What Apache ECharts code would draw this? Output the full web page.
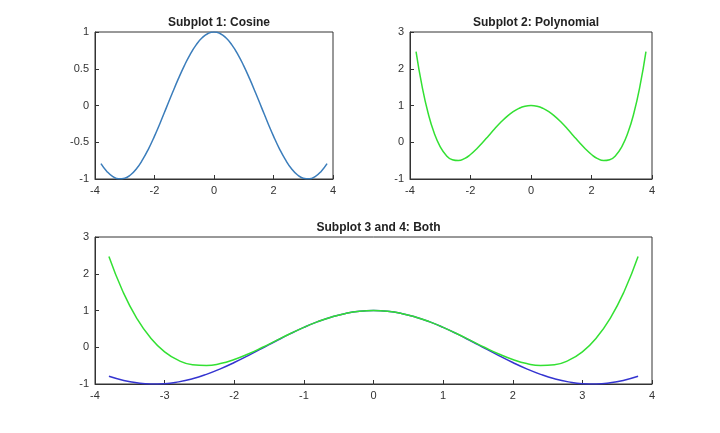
<!DOCTYPE html>
<html><head><meta charset="utf-8">
<script src="https://cdn.jsdelivr.net/npm/echarts@6/dist/echarts.min.js"></script>
<style>html,body{margin:0;background:#fff}#c{width:720px;height:433px}</style>
</head><body><div id="c"></div>
<script>
const xs = [-3.8,-3.6,-3.4,-3.2,-3.0,-2.8,-2.6,-2.4,-2.2,-2.0,-1.8,-1.6,-1.4,-1.2,-1.0,-0.8,-0.6,-0.4,-0.2,0,
  0.2,0.4,0.6,0.8,1.0,1.2,1.4,1.6,1.8,2.0,2.2,2.4,2.6,2.8,3.0,3.2,3.4,3.6,3.8]
const cosHalf = [-0.791,-0.897,-0.967,-0.998,-0.990,-0.942,-0.857,-0.737,-0.589,-0.416,-0.227,-0.029,0.170,0.362,0.540,0.697,0.825,0.921,0.980,1]
const polyHalf = [2.468,1.518,0.788,0.249,-0.125,-0.359,-0.476,-0.498,-0.444,-0.333,-0.183,-0.007,0.180,0.366,0.542,0.697,0.825,0.921,0.980,1]
const cosVals = cosHalf.concat(cosHalf.slice(0, -1).reverse())
const polyVals = polyHalf.concat(polyHalf.slice(0, -1).reverse())
const titles = ['Subplot 1: Cosine', 'Subplot 2: Polynomial', 'Subplot 3 and 4: Both']

const pair = v => xs.map((x, i) => [x, v[i]])
const font = {color: '#333', fontSize: 11, fontFamily: 'Liberation Sans'}
const grids = [
  {left: 95, top: 32, width: 238, height: 147},
  {left: 410, top: 32, width: 242, height: 147},
  {left: 95, top: 237, width: 557, height: 147}
].map(g => Object.assign(g, {show: true, borderColor: '#333', borderWidth: 1}))

const axisBase = {
  axisLine: {show: true, onZero: false, lineStyle: {color: '#333'}},
  axisTick: {inside: true, length: 4, lineStyle: {color: '#333'}},
  splitLine: {show: false},
  axisLabel: Object.assign({margin: 6, showMinLabel: true, showMaxLabel: true}, font)
}
const xAxis = [2, 2, 1].map((iv, i) => Object.assign({type: 'value', gridIndex: i, min: -4, max: 4, interval: iv}, axisBase))
const yAxis = [
  {min: -1, max: 1, interval: 0.5},
  {min: -1, max: 3, interval: 1},
  {min: -1, max: 3, interval: 1}
].map((y, i) => Object.assign({type: 'value', gridIndex: i}, y, axisBase))

const line = (i, data, color) => ({
  type: 'line', xAxisIndex: i, yAxisIndex: i, data: pair(data), smooth: true,
  showSymbol: false, lineStyle: {color: color, width: 1.5}
})

const chart = echarts.init(document.getElementById('c'))
chart.setOption({
  animation: false,
  title: titles.map((t, i) => ({
    text: t, left: grids[i].left + grids[i].width / 2, textAlign: 'center', top: grids[i].top - 20,
    textStyle: {fontSize: 12, fontWeight: 'bold', color: '#222', fontFamily: 'Liberation Sans'}
  })),
  grid: grids, xAxis: xAxis, yAxis: yAxis,
  series: [
    line(0, cosVals, '#3b7dbb'),
    line(1, polyVals, '#33e033'),
    line(2, cosVals, '#3434d0'),
    line(2, polyVals, '#33e033')
  ]
})
</script></body></html>
